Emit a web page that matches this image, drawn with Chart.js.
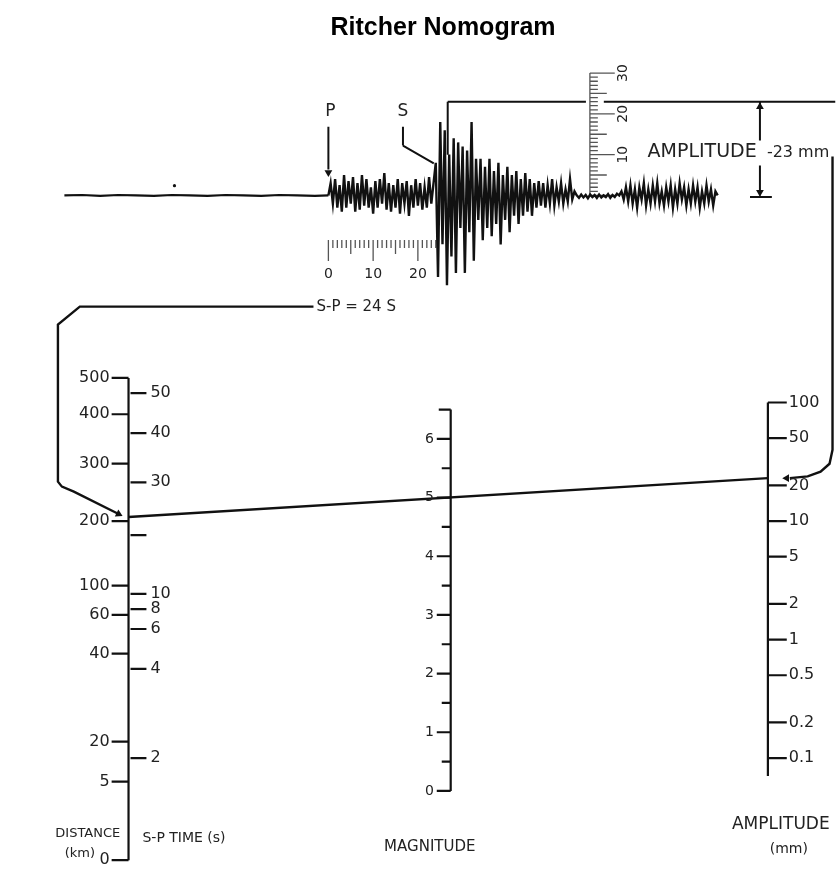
<!DOCTYPE html>
<html>
<head>
<meta charset="utf-8">
<script src="https://cdn.jsdelivr.net/npm/chart.js@4.4.1/dist/chart.umd.min.js"></script>
<style>
  html, body { margin: 0; padding: 0; background: #fff; }
  #wrap { width: 840px; height: 869px; }
</style>
</head>
<body>
<div id="wrap"><canvas id="nomo"></canvas></div>
<script>
// nomogram scales (left scale positions read as -log A0)
const magTicks = [0, 1, 2, 3, 4, 5, 6];
const magTop = 6.5;
const ampTicks = [100, 50, 20, 10, 5, 2, 1, 0.5, 0.2, 0.1];
const distLabels = ['500', '400', '300', '200', '100', '60', '40', '20', '5', '0'];
const distLogA0 = [4.81, 4.50, 4.08, 3.59, 3.04, 2.79, 2.46, 1.71, 1.37, 0.70];
const spLabels = ['50', '40', '30', '', '10', '8', '6', '4', '2'];
const spLogA0 = [4.68, 4.34, 3.92, 3.47, 2.97, 2.84, 2.67, 2.33, 1.57];

// the worked reading
const readSP = 24;
const readAmp = 23;
const readMag = 5;

// seismogram trace (seconds after P, mm)
const preTime = [-59, -55, -51, -47, -43, -39, -35, -31, -27, -23, -19, -15, -11, -7, -3, 0];
const preAmp = [0, 0.1, -0.1, 0.1, 0, -0.1, 0.1, 0, -0.1, 0.1, 0, -0.1, 0.1, 0, -0.1, 0];
const traceStep = 0.5;
const pCoda = [0, 3, -2, 4, -3, 2.5, -4, 5, -3, 3.5, -2, 4.5, -4, 3, -3.5, 5, -2.5, 4, -3, 2,
  -4.5, 3.5, -3, 4, -2, 5.5, -3.5, 3, -4, 2.5, -3, 4, -4.5, 3, -2, 3.5, -5, 2.5, -3, 4,
  -2.5, 3, -3.5, 2, -3, 4.5, -2, 3];
const sOnset = [8, -20, 18, -12, 16, -22, 10, -15, 14, -19, 13, -8, 12, -19, 11, -9, 18, -16, 9];
const sCoda = [-6, 9, -11, 7, -8, 9, -10, 6, -7, 8, -12, 5, -6, 7, -9, 5, -5, 6, -7, 4,
  -5, 5.5, -4, 4, -5, 3];
const lateCoda = [-3, 3.5, -2.5, 3, -3, 2.5, -2, 4, -2.5, 2, -1.5, 3, -2, 1.5, -1.5, 4, -1, 1];
const quiet = [0, -0.6, 0.2, -0.5, 0.1, -0.7, 0.2, -0.4, 0.1, -0.6, 0.2, -0.5, 0, -0.4, 0.3,
  -0.6, 0.1, -0.4, 0.4, 0];
const tail = [1, -1, 2, -1.5, 2.5, -2, 1.5, -3, 2, -1, 3, -2.5, 1.5, -2, 2.5, -1.5, 3, -2, 1, -2.5,
  2, -1.5, 2.5, -3, 1.5, -2, 3, -1, 2, -2.5, 1.5, -2, 2.5, -1.5, 2, -3, 1, -2, 2.5, -1.5,
  1.5, -2.5, 1, 0];
const timeRulerLabels = [0, 10, 20];
const ampRulerLabels = [10, 20, 30];

// ---- layout helpers ----
const XL = 129, XM = 453, XR = 772;
const AMP0 = 2.58, AMP_DEC = 2.02;
const ampPos = a => AMP0 + AMP_DEC * Math.log10(a);
const leftPos = q => 2 * q - AMP0;
const py = p => (795 - p) / 59;            // drawing row -> magnitude units
const seisX = t => 330 + 4.5 * t;
const seisY = mm => 10.15 + 0.0695 * mm;

const INK = '#111';
const TXT = '#222';
const FONT = '"DejaVu Sans", Verdana, sans-serif';

function segs(list) {
  const out = [];
  list.forEach(s => {
    out.push({ x: s[0], y: s[1] }, { x: s[2], y: s[3] }, { x: null, y: null });
  });
  return out;
}
function line(data, width, color) {
  return { data, showLine: true, pointRadius: 0, borderColor: color || INK,
    borderWidth: width || 2, fill: false, tension: 0, spanGaps: false };
}

// trace
const traceAmp = [].concat(pCoda, sOnset, sCoda, lateCoda, quiet, tail);
const prePts = preTime.map((t, i) => ({ x: seisX(t), y: seisY(preAmp[i]) }));
const tracePts = traceAmp.map((a, i) => ({ x: seisX(i * traceStep), y: seisY(a) }));

// nomogram axes
const R = ampPos(readAmp);
const L = 2 * readMag - R;
const axesSegs = [
  [XL, leftPos(distLogA0[0]), XL, leftPos(distLogA0[distLogA0.length - 1])],
  [XM, 0, XM, magTop], [XM - 12, magTop, XM, magTop],
  [XR, ampPos(ampTicks[0]), XR, py(780)]
];
const tickSegs = [];
distLogA0.forEach(q => tickSegs.push([XL - 17, leftPos(q), XL, leftPos(q)]));
spLogA0.forEach(q => tickSegs.push([XL + 2, leftPos(q), XL + 18, leftPos(q)]));
magTicks.forEach(m => tickSegs.push([XM - 14, m, XM, m]));
magTicks.forEach(m => { if (m + 0.5 < magTop) tickSegs.push([XM - 9, m + 0.5, XM, m + 0.5]); });
ampTicks.forEach(a => tickSegs.push([XR, ampPos(a), XR + 19, ampPos(a)]));

// seismogram rulers
const rulerSegs = [];
for (let t = 0; t <= readSP; t++) {
  const low = t % 10 === 0 ? 262 : (t % 5 === 0 ? 255 : 249);
  rulerSegs.push([seisX(t), py(241), seisX(t), py(low)]);
}
rulerSegs.push([593, seisY(0), 593, seisY(30)]);
for (let a = 0; a <= 30; a++) {
  const right = a % 10 === 0 ? 618 : (a % 5 === 0 ? 610 : 601);
  rulerSegs.push([593, seisY(a), right, seisY(a)]);
}

// guide lines of the reading
const guideSegs = [
  [seisX(0), py(127), seisX(0), py(170)],
  [405, py(127), 405, py(146)], [405, py(146), seisX(readSP) - 2, py(164)],
  [450, seisY(10), 450, seisY(readAmp)], [450, seisY(readAmp), 589, seisY(readAmp)],
  [607, seisY(readAmp), 840, seisY(readAmp)],
  [764, seisY(readAmp), 764, py(141)], [764, py(166), 764, seisY(0)],
  [754, seisY(-0.4), 776, seisY(-0.4)]
];
const leftRoute = [[315, py(308)], [80, py(308)], [58, py(326)], [58, py(484)], [62, py(489)],
  [74, py(494)], [118, L + 0.06]].map(p => ({ x: p[0], y: p[1] }));
const rightRoute = [[837, py(157)], [837, py(452)], [834, py(466)], [825, py(474)],
  [812, R + 0.03], [794, R]].map(p => ({ x: p[0], y: p[1] }));
const mainLine = [{ x: XL, y: L }, { x: XR, y: R }];

const arrows = [
  { x: seisX(0), y: py(173), r: 180 },
  { x: 764, y: py(107), r: 0 },
  { x: 764, y: py(193), r: 180 },
  { x: 119, y: L + 0.05, r: 117 },
  { x: 791, y: R, r: 270 }
];

// text
const labels = [];
distLabels.forEach((s, i) => labels.push({ text: s, x: XL - 19, y: leftPos(distLogA0[i]), align: 'right', size: 16 }));
spLabels.forEach((s, i) => labels.push({ text: s, x: XL + 22, y: leftPos(spLogA0[i]), align: 'left', size: 16 }));
magTicks.forEach(m => labels.push({ text: String(m), x: XM - 17, y: m, align: 'right', size: 14 }));
ampTicks.forEach(a => labels.push({ text: String(a), x: XR + 21, y: ampPos(a), align: 'left', size: 16 }));
timeRulerLabels.forEach(t => labels.push({ text: String(t), x: seisX(t), y: py(276), size: 14 }));
ampRulerLabels.forEach(a => labels.push({ text: String(a), x: 627, y: seisY(a), rot: -Math.PI / 2, size: 14 }));
labels.push(
  { text: 'P', x: seisX(0) + 2, y: py(112), size: 17 },
  { text: 'S', x: 405, y: py(112), size: 17 },
  { text: 'S-P = ' + readSP + ' S', x: 318, y: py(308), align: 'left', size: 15 },
  { text: 'AMPLITUDE', x: 651, y: py(153), align: 'left', size: 19 },
  { text: '-' + readAmp + ' mm', x: 771, y: py(153), align: 'left', size: 16 },
  { text: 'DISTANCE', x: 88, y: py(838), size: 13 },
  { text: '(km)', x: 80, y: py(858), size: 13 },
  { text: 'S-P TIME (s)', x: 143, y: py(843), align: 'left', size: 14 },
  { text: 'MAGNITUDE', x: 432, y: py(852), size: 15 },
  { text: 'AMPLITUDE', x: 785, y: py(829), size: 17 },
  { text: '(mm)', x: 793, y: py(854), size: 14 }
);

const textPlugin = {
  id: 'nomoText',
  afterDatasetsDraw(chart) {
    const { ctx } = chart;
    const xs = chart.scales.x, ys = chart.scales.y;
    ctx.save();
    ctx.fillStyle = TXT;
    ctx.textBaseline = 'middle';
    labels.forEach(l => {
      ctx.font = (l.size || 14) + 'px ' + FONT;
      ctx.textAlign = l.align || 'center';
      const px = xs.getPixelForValue(l.x), pv = ys.getPixelForValue(l.y);
      if (l.rot) {
        ctx.save();
        ctx.translate(px, pv);
        ctx.rotate(l.rot);
        ctx.fillText(l.text, 0, 0);
        ctx.restore();
      } else {
        ctx.fillText(l.text, px, pv);
      }
    });
    ctx.restore();
  }
};

new Chart(document.getElementById('nomo'), {
  type: 'scatter',
  data: {
    datasets: [
      line(prePts, 2.2),
      line(tracePts, 2.4),
      line(segs(axesSegs), 2.2),
      line(segs(tickSegs), 2.2),
      line(segs(rulerSegs), 1.3, '#555'),
      line(segs(guideSegs), 2),
      line(leftRoute, 2.4),
      line(rightRoute, 2.4),
      line(mainLine, 2.4),
      {
        data: arrows.map(a => ({ x: a.x, y: a.y })),
        showLine: false,
        pointStyle: 'triangle',
        pointRadius: 4.5,
        pointRotation: arrows.map(a => a.r),
        backgroundColor: INK,
        borderColor: INK,
        borderWidth: 0
      },
      {
        data: [{ x: seisX(-34.4), y: seisY(2.4) }],
        showLine: false,
        pointRadius: 1.6,
        backgroundColor: INK,
        borderWidth: 0
      }
    ]
  },
  options: {
    responsive: true,
    maintainAspectRatio: false,
    animation: false,
    layout: { padding: { left: 46, right: 0, top: 0, bottom: 0 } },
    plugins: {
      legend: { display: false },
      tooltip: { enabled: false },
      title: {
        display: true,
        text: 'Ritcher Nomogram',
        color: '#000',
        font: { size: 25, weight: 'bold', family: '"Liberation Sans", Arial, sans-serif' },
        padding: { top: 13, bottom: 17 }
      }
    },
    scales: {
      x: { type: 'linear', min: 46, max: 840, display: false },
      y: { type: 'linear', min: -1.254, max: 12.458, display: false }
    }
  },
  plugins: [textPlugin]
});
</script>
</body>
</html>
